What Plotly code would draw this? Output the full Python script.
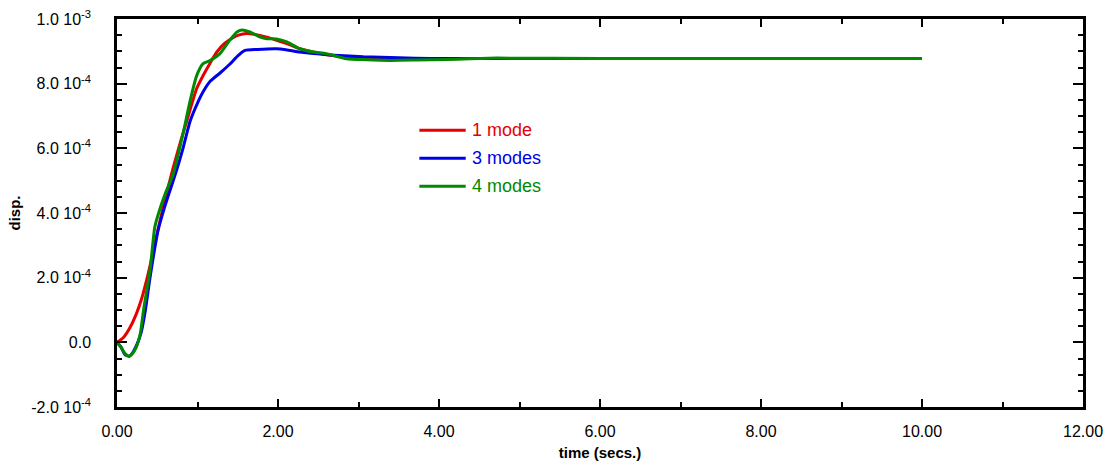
import plotly.graph_objects as go

# Displacement response (units of 1e-4) for modal truncation levels
t_1mode = [0, 0.08, 0.16, 0.24, 0.30, 0.37, 0.45, 0.51, 0.60, 0.70, 0.80, 0.87, 0.99,
           1.08, 1.16, 1.24, 1.34, 1.44, 1.52, 1.61, 1.70, 1.86, 2.02, 2.11, 2.27,
           2.44, 2.65, 2.85, 3.06, 3.40, 4.0, 5.0, 6.0, 8.0, 10.0]
d_1mode = [0, 0.15, 0.45, 0.88, 1.3, 1.95, 2.8, 3.5, 4.45, 5.42, 6.3, 6.87, 7.85,
           8.3, 8.65, 8.98, 9.25, 9.42, 9.51, 9.55, 9.53, 9.44, 9.31, 9.24, 9.08,
           8.98, 8.88, 8.82, 8.79, 8.77, 8.77, 8.78, 8.78, 8.78, 8.78]

t_3modes = [0, 0.05, 0.10, 0.15, 0.20, 0.25, 0.30, 0.35, 0.41, 0.51, 0.60, 0.74, 0.82,
            0.91, 1.0, 1.07, 1.16, 1.28, 1.40, 1.50, 1.59, 1.74, 1.98, 2.10, 2.27,
            2.44, 2.70, 3.06, 3.50, 3.89, 5.0, 7.0, 10.0]
d_3modes = [0, -0.15, -0.38, -0.43, -0.30, -0.05, 0.30, 0.95, 2.0, 3.46, 4.25, 5.32, 6.0,
            6.85, 7.4, 7.75, 8.08, 8.33, 8.6, 8.86, 9.03, 9.06, 9.08, 9.05, 8.98,
            8.93, 8.88, 8.83, 8.80, 8.78, 8.78, 8.78, 8.78]

t_4modes = [0, 0.05, 0.10, 0.15, 0.20, 0.24, 0.29, 0.33, 0.41, 0.47, 0.53, 0.60, 0.70,
            0.82, 0.91, 0.99, 1.07, 1.16, 1.28, 1.40, 1.49, 1.55, 1.65, 1.78, 1.86,
            1.98, 2.11, 2.27, 2.44, 2.60, 2.85, 3.10, 3.39, 3.70, 4.10, 4.72, 6.0,
            8.0, 10.0]
d_4modes = [0, -0.15, -0.35, -0.43, -0.32, -0.15, 0.28, 1.0, 2.23, 3.57, 4.1, 4.6, 5.22,
            6.45, 7.49, 8.25, 8.62, 8.72, 8.93, 9.34, 9.6, 9.66, 9.6, 9.44, 9.39,
            9.38, 9.29, 9.08, 8.98, 8.93, 8.77, 8.74, 8.72, 8.73, 8.75, 8.79, 8.78,
            8.78, 8.78]

series = [
    ("1 mode", t_1mode, d_1mode, "#e60000"),
    ("3 modes", t_3modes, d_3modes, "#0000e6"),
    ("4 modes", t_4modes, d_4modes, "#008a00"),
]

y_tickvals = [-2e-4, 0, 2e-4, 4e-4, 6e-4, 8e-4, 1e-3]
y_ticktext = ["-2.0 10<sup>-4</sup>", "0.0", "2.0 10<sup>-4</sup>", "4.0 10<sup>-4</sup>",
              "6.0 10<sup>-4</sup>", "8.0 10<sup>-4</sup>", "1.0 10<sup>-3</sup>"]
x_tickvals = [0, 2, 4, 6, 8, 10, 12]
x_ticktext = ["0.00", "2.00", "4.00", "6.00", "8.00", "10.00", "12.00"]

FONT = "Liberation Sans, Arial, Helvetica, sans-serif"

fig = go.Figure()
for name, t, d, color in series:
    fig.add_trace(go.Scatter(
        x=t, y=[v * 1e-4 for v in d], mode="lines", name=name,
        line=dict(color=color, width=3, shape="spline", smoothing=0.6),
        showlegend=False,
    ))

# Hand-placed legend inside the plotting area
legend_x0, legend_x1 = 0.313, 0.361
legend_y = [0.713, 0.641, 0.569]
for (name, _, _, color), ly in zip(series, legend_y):
    fig.add_shape(type="line", xref="paper", yref="paper",
                  x0=legend_x0, x1=legend_x1, y0=ly, y1=ly,
                  line=dict(color=color, width=3))
    fig.add_annotation(xref="paper", yref="paper", x=legend_x1 + 0.004, y=ly,
                       xanchor="left", yanchor="middle", text=name, showarrow=False,
                       font=dict(family=FONT, size=18, color=color))

axis_common = dict(
    showline=True, linecolor="black", linewidth=2.5, mirror="allticks",
    ticks="inside", tickcolor="black", tickwidth=2, showgrid=False, zeroline=False,
    tickfont=dict(family=FONT, size=16, color="black"),
)

fig.update_xaxes(
    range=[0, 12], tickmode="array", tickvals=x_tickvals, ticktext=x_ticktext,
    ticklen=8, ticklabelstandoff=8,
    minor=dict(tickmode="linear", tick0=0, dtick=1, ticks="inside", ticklen=5,
               tickwidth=2, tickcolor="black"),
    title=dict(text="<b>time (secs.)</b>", font=dict(family=FONT, size=15, color="black"),
               standoff=9),
    **axis_common,
)
fig.update_yaxes(
    range=[-2e-4, 1e-3], tickmode="array", tickvals=y_tickvals, ticktext=y_ticktext,
    ticklen=10, ticklabelstandoff=20,
    minor=dict(tickmode="linear", tick0=0, dtick=5e-5, ticks="inside", ticklen=5,
               tickwidth=2, tickcolor="black"),
    title=dict(text="<b>disp.</b>", font=dict(family=FONT, size=15, color="black"),
               standoff=8),
    **axis_common,
)

fig.update_layout(
    width=1109, height=462,
    margin=dict(l=117, r=26, t=19, b=55, autoexpand=False),
    plot_bgcolor="white", paper_bgcolor="white",
    font=dict(family=FONT, color="black"),
)

fig.write_html("out.html")
